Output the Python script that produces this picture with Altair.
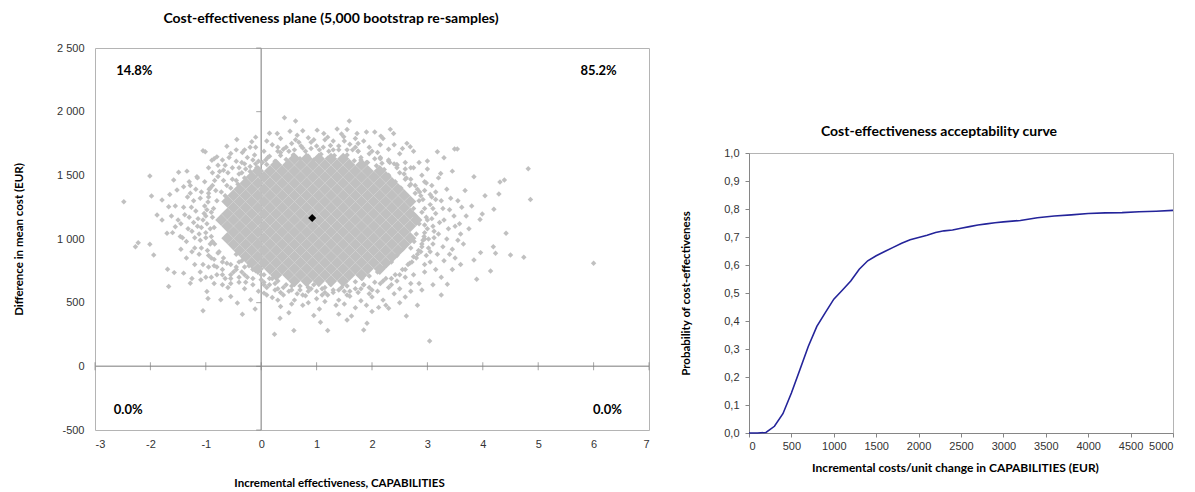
import altair as alt
import pandas as pd

# ---------------- Cost-effectiveness plane ----------------
plane_title = "Cost-effectiveness plane (5,000 bootstrap re-samples)"
plane_x_ticks = [-3, -2, -1, 0, 1, 2, 3, 4, 5, 6, 7]
plane_y_ticks = [-500, 0, 500, 1000, 1500, 2000, 2500]

# dense core of the bootstrap cloud (rows of re-samples)
E17 = [-0.72, -0.50, -0.28, -0.06, 0.16, 0.38, 0.60, 0.82, 1.04, 1.26, 1.48, 1.70, 1.92, 2.14, 2.36, 2.58, 2.80]
O16 = [-0.61, -0.39, -0.17, 0.05, 0.27, 0.49, 0.71, 0.93, 1.15, 1.37, 1.59, 1.81, 2.03, 2.25, 2.47, 2.69]
E15 = [-0.50, -0.28, -0.06, 0.16, 0.38, 0.60, 0.82, 1.04, 1.26, 1.48, 1.70, 1.92, 2.14, 2.36, 2.58]
O14 = [-0.39, -0.17, 0.05, 0.27, 0.49, 0.71, 0.93, 1.15, 1.37, 1.59, 1.81, 2.03, 2.25, 2.47]
E13 = [-0.28, -0.06, 0.16, 0.38, 0.60, 0.82, 1.04, 1.26, 1.48, 1.70, 1.92, 2.14, 2.36]
O12 = [-0.17, 0.05, 0.27, 0.49, 0.71, 0.93, 1.15, 1.37, 1.59, 1.81, 2.03, 2.25]
E11 = [-0.06, 0.16, 0.38, 0.60, 0.82, 1.04, 1.26, 1.48, 1.70, 1.92, 2.14]
O8 = [0.27, 0.49, 0.71, 0.93, 1.15, 1.37, 1.59, 1.81]
E5 = [0.60, 0.82, 1.04, 1.26, 1.48]
core_y = [1630, 1582, 1534, 1486, 1438, 1390, 1342, 1294, 1246, 1198, 1150,
          1102, 1054, 1006, 958, 910, 862, 814, 766, 718, 670]
core_x = [E5, O8, E11, O12, E13, O14, E15, O16, E15, O16, E17,
          O16, E15, O16, E15, O14, E13, O12, E11, O8, E5]

# scattered re-samples around the core
halo_points = [
    (-2.48, 1292), (-2.01, 1494), (-1.98, 1337), (-2.27, 940), (-2.22, 971), (-2.01, 958),
    (-1.94, 875), (-1.69, 762), (-1.57, 736), (-1.79, 1306), (-1.67, 1254), (-1.88, 1189),
    (-1.79, 1150), (-1.70, 1045), (-1.46, 1019), (-1.55, 1097), (-1.52, 1385), (-1.40, 1411),
    (-1.28, 1359), (-1.58, 1463), (-1.16, 1489), (-1.49, 1525), (-1.34, 1533),
    (-1.05, 437), (-0.96, 532), (-0.34, 409), (-0.11, 451), (0.24, 252), (0.59, 281),
    (1.20, 281), (0.34, 377), (-1.67, 627), (-1.40, 732), (-1.28, 653), (-1.09, 679),
    (-0.98, 588), (-0.73, 523), (-0.55, 549), (-0.43, 497), (-0.19, 523), (0.05, 575),
    (0.42, 1952), (0.62, 1926), (1.59, 1926), (-1.05, 1693), (-1.01, 1685), (-0.62, 1729),
    (-0.44, 1781), (-0.17, 1763), (-0.89, 1619), (-0.80, 1645), (-0.55, 1672), (-0.34, 1680),
    (0.29, 1829), (0.52, 1847), (1.01, 1855), (1.37, 1863), (1.13, 1829), (1.73, 1829),
    (1.49, 1803), (2.33, 1861), (2.39, 1829), (2.16, 1808), (2.63, 1751), (2.69, 1725),
    (3.49, 1707), (3.54, 1707), (3.18, 1685), (3.00, 1612), (3.30, 1638), (3.45, 1533),
    (3.24, 1515), (6.00, 809), (4.82, 1552), (4.86, 1311), (4.74, 856), (4.50, 874),
    (4.42, 1045), (4.31, 1447), (4.39, 1463), (4.29, 1353), (4.20, 1233), (4.04, 1340),
    (3.99, 1196), (3.84, 1489), (3.95, 1154), (4.19, 940), (4.23, 888), (3.96, 893),
    (3.84, 835), (4.14, 749), (3.89, 684), (3.36, 644), (3.04, 199), (2.82, 479),
    (2.62, 395), (2.30, 456), (2.12, 463), (1.91, 338), (1.85, 286), (1.63, 395),
    (1.55, 364), (1.07, 346),
    (-0.30, 1590), (-0.15, 1620), (0.02, 1600), (0.12, 1640), (0.25, 1610), (0.35, 1655),
    (0.45, 1625), (0.58, 1660), (0.70, 1630), (0.85, 1650), (0.95, 1620), (1.08, 1665),
    (1.20, 1635), (1.32, 1655), (1.45, 1620), (1.55, 1660), (1.68, 1615), (1.80, 1640),
    (1.92, 1600), (2.05, 1630), (2.18, 1595), (2.30, 1620), (2.45, 1585), (2.60, 1600),
    (-0.45, 1700), (-0.20, 1720), (0.05, 1690), (0.20, 1740), (0.40, 1705), (0.55, 1750),
    (0.75, 1715), (0.90, 1760), (1.05, 1700), (1.25, 1735), (1.40, 1700), (1.60, 1745),
    (1.75, 1690), (1.95, 1720), (2.10, 1680), (2.30, 1705), (2.50, 1670), (2.75, 1690),
    (-0.10, 1800), (0.15, 1830), (0.35, 1790), (0.65, 1815), (0.85, 1795), (1.20, 1800),
    (1.45, 1825), (1.70, 1790), (1.90, 1840), (2.20, 1790),
    (-0.42, 1430), (-0.30, 1480), (-0.20, 1530), (-0.08, 1560), (0.10, 1585), (0.28, 1598),
    (-0.45, 880), (-0.35, 830), (-0.22, 790), (-0.10, 750), (0.05, 720), (0.20, 690),
    (0.30, 670), (2.30, 1500), (2.42, 1450), (2.52, 1400), (2.62, 1340), (2.70, 1290),
    (2.22, 1545), (2.08, 1575), (1.90, 1600), (1.80, 1620), (2.55, 920), (2.45, 870),
    (2.35, 820), (2.22, 780), (2.10, 740), (1.95, 710), (1.82, 690), (1.70, 665),
    (-0.85, 1090), (-0.90, 1210), (-0.88, 980), (-0.95, 1330), (-0.92, 1400), (-0.84, 1460),
    (-0.97, 910), (-0.90, 850), (-1.00, 1050), (-1.05, 1150), (-1.02, 1260), (-1.10, 990),
    (-1.08, 1370), (-1.15, 1100), (-1.18, 1220), (-1.25, 1060), (-1.22, 1300), (-1.30, 1170),
    (-1.35, 980), (-1.40, 1250), (-1.45, 1120), (-1.12, 880), (-1.20, 930), (-1.05, 800),
    (-0.80, 780), (-0.70, 820), (-0.75, 1530), (-0.95, 1560), (-1.15, 1480), (-1.28, 1420),
    (-0.85, 1630), (-0.65, 1580), (-0.40, 1560),
    (-0.80, 720), (-0.65, 690), (-0.50, 740), (-0.40, 660), (-0.25, 700), (-0.30, 610),
    (-0.15, 640), (-0.05, 590), (0.10, 620), (0.00, 680), (-0.60, 620), (-0.85, 650),
    (-1.00, 700), (-1.20, 800), (-1.35, 850),
    (0.15, 640), (0.30, 610), (0.45, 640), (0.55, 600), (0.70, 630), (0.85, 590),
    (0.95, 640), (1.10, 610), (1.25, 645), (1.40, 600), (1.55, 630), (1.70, 610),
    (1.85, 640), (2.00, 600), (2.15, 650), (2.30, 620), (2.45, 670), (2.60, 700),
    (2.70, 650), (0.20, 540), (0.40, 560), (0.60, 520), (0.80, 555), (1.00, 530),
    (1.20, 560), (1.40, 520), (1.60, 550), (1.80, 515), (2.00, 545), (2.20, 520),
    (2.40, 570), (2.60, 545), (0.35, 470), (0.75, 480), (1.05, 450), (1.35, 480),
    (1.70, 460), (2.00, 430), (0.95, 400), (1.40, 410), (0.50, 420),
    (2.75, 1240), (2.78, 1180), (2.72, 1100), (2.80, 1040), (2.76, 980), (2.70, 930),
    (2.85, 1300), (2.78, 1360), (2.68, 1420), (2.60, 1470), (2.85, 1120), (2.90, 1210),
    (2.95, 1050), (2.92, 990), (3.00, 1150), (3.05, 1270), (2.95, 1380), (2.88, 900),
    (2.80, 850), (2.65, 800), (3.10, 1100), (3.15, 1200), (3.10, 960), (3.20, 1040),
    (3.25, 1300), (3.30, 1150), (3.18, 880), (3.05, 820), (3.35, 1000), (3.40, 1230),
    (3.50, 1100), (3.45, 920), (3.55, 1300), (3.60, 1040), (3.70, 1180), (3.65, 960),
    (3.08, 1420), (3.20, 1480), (3.35, 1390), (2.90, 1500), (2.75, 1560), (3.00, 1550),
    (2.60, 1550), (2.40, 1590), (3.15, 760), (2.95, 740), (2.75, 720), (3.30, 830),
    (3.50, 850), (3.10, 640), (2.90, 600), (3.25, 560), (3.45, 760),
    (-0.98, 1120), (-1.03, 1200), (-0.96, 1290), (-1.00, 1010), (-0.94, 1390), (-1.12, 1040),
    (-1.14, 1160), (-1.10, 1320), (-1.22, 1130), (-1.26, 1250), (-1.20, 1010), (-1.32, 1080),
    (-1.38, 1190), (-1.33, 1330), (-1.42, 1010), (-1.50, 1150), (-1.55, 1260), (-1.60, 1050),
    (-1.25, 900), (-1.08, 930), (-0.92, 960), (-1.30, 1450), (-1.18, 1390), (-1.02, 1450),
    (-0.88, 1520), (-0.78, 1580), (-0.70, 1620), (-1.45, 920), (-1.62, 1180), (-1.65, 1350),
    (-0.95, 780), (-0.85, 840), (-0.78, 890), (-0.70, 760), (-0.62, 810), (-0.55, 720),
    (-0.45, 780), (-0.35, 740), (-0.28, 660), (-0.55, 650), (-0.70, 640), (-0.90, 700),
    (-1.10, 740), (-1.25, 690),
    (-0.68, 1460), (-0.60, 1520), (-0.52, 1560), (-0.45, 1610), (-0.35, 1600), (-0.25, 1640),
    (-0.12, 1660), (-0.58, 1640), (-0.30, 1700), (-0.10, 1720),
    (0.10, 1770), (0.30, 1720), (0.50, 1690), (0.68, 1760), (0.80, 1690), (1.00, 1730),
    (1.15, 1780), (1.30, 1700), (1.50, 1770), (1.65, 1700), (1.85, 1770), (2.00, 1690),
    (2.15, 1740), (2.40, 1740), (2.55, 1710), (2.05, 1840), (1.55, 1860), (0.75, 1850),
    (2.50, 1520), (2.62, 1480), (2.70, 1430), (2.82, 1390), (2.88, 1340), (2.95, 1450),
    (2.45, 1580), (2.30, 1610), (2.15, 1630), (2.70, 1560), (2.85, 1600),
    (-0.45, 1460), (-0.35, 1520), (-0.20, 1570), (-0.05, 1610), (0.15, 1650), (0.35, 1680),
    (-0.55, 1400), (-0.65, 1340),
    (0.25, 600), (0.50, 590), (0.65, 570), (0.90, 610), (1.15, 580), (1.30, 600),
    (1.50, 590), (1.75, 580), (1.95, 620), (2.10, 590), (2.35, 640), (2.50, 610),
    (0.05, 640), (0.10, 560), (0.30, 520), (0.55, 490), (0.85, 500), (1.15, 510),
    (1.50, 490), (1.90, 480), (2.25, 480), (2.50, 500), (2.70, 590), (2.85, 650),
    (2.60, 760), (2.72, 820), (2.82, 880), (2.90, 940), (2.50, 720), (2.35, 690),
    (2.20, 670), (2.95, 800), (-0.40, 820), (-0.30, 780), (-0.15, 760), (0.00, 720),
    (0.15, 690),
    (2.95, 1110), (3.02, 1000), (3.08, 1330), (3.12, 1060), (3.22, 1130), (3.28, 1240),
    (3.38, 1080), (3.42, 1320), (3.48, 1180), (3.58, 1120), (3.62, 1250), (3.28, 940),
    (3.40, 880), (3.55, 990), (3.75, 1080), (3.80, 1260), (3.15, 1370), (3.05, 900),
    (2.98, 870), (3.68, 1380), (3.25, 700), (3.60, 800),
    (-0.88, 1170), (-0.92, 1080), (-0.86, 1240), (-0.90, 1020), (-0.84, 960), (-0.80, 1300),
    (-0.76, 900), (-0.72, 1370), (-0.68, 850), (-0.62, 1420), (-0.55, 800), (-0.52, 1470),
    (-0.45, 760), (-0.40, 1510), (-0.30, 720), (-0.28, 1550), (-0.15, 690), (-0.10, 1590),
    (0.05, 660), (0.08, 1620), (-1.00, 1180), (-0.98, 1230), (-1.08, 1090), (-0.95, 1360),
    (-0.88, 1420), (-0.82, 1380), (-0.78, 1490), (-0.68, 1540), (-0.95, 870), (-0.85, 790),
    (-0.70, 720), (-0.55, 690), (-0.40, 700),
    (2.98, 1170), (2.95, 1240), (3.00, 1080), (2.92, 1310), (2.94, 1020), (2.86, 1370),
    (2.90, 960), (2.78, 1420), (2.84, 910), (2.70, 1470), (2.75, 860), (2.58, 1510),
    (2.68, 810), (2.45, 1560), (2.55, 760), (2.32, 1600), (2.42, 720), (2.15, 1640),
    (2.25, 690), (1.95, 1670), (2.05, 660), (1.75, 1690), (1.85, 640), (3.08, 1160),
    (3.10, 1240), (3.12, 1010), (3.05, 1350), (3.15, 1310), (2.98, 1440), (3.02, 930),
    (2.95, 1000),
    (0.30, 1690), (0.45, 1720), (0.60, 1700), (0.72, 1730), (0.90, 1710), (1.12, 1720),
    (1.22, 1690), (1.40, 1730), (1.55, 1700), (1.70, 1720), (0.62, 1780), (0.95, 1780),
    (1.30, 1770), (1.75, 1750),
    (0.25, 650), (0.40, 620), (0.55, 630), (0.70, 600), (0.85, 620), (1.00, 590),
    (1.15, 620), (1.30, 580), (1.45, 620), (1.60, 590), (1.80, 610), (0.35, 580),
    (0.75, 560), (1.10, 560), (1.55, 560), (1.95, 570),
]

mean_x = [0.92]
mean_y = [1165]

quad_text = ["14.8%", "85.2%", "0.0%", "0.0%"]
quad_x = [-2.29, 6.09, -2.40, 6.25]
quad_y = [2320, 2320, -340, -340]

# ---------------- Acceptability curve ----------------
ceac_title = "Cost-effectiveness acceptability curve"
ceac_wtp = [0, 100, 200, 300, 400, 500, 600, 700, 800, 900, 1000, 1100, 1200, 1300, 1400,
            1500, 1600, 1700, 1800, 1900, 2000, 2100, 2200, 2300, 2400, 2500, 2600, 2700,
            2800, 2900, 3000, 3200, 3400, 3600, 3800, 4000, 4200, 4400, 4600, 4800, 5000]
ceac_prob = [0.0, 0.0, 0.002, 0.024, 0.069, 0.143, 0.226, 0.31, 0.381, 0.43, 0.478, 0.51,
             0.543, 0.585, 0.615, 0.633, 0.648, 0.663, 0.678, 0.69, 0.698, 0.706, 0.716,
             0.722, 0.725, 0.731, 0.737, 0.743, 0.747, 0.751, 0.754, 0.759, 0.769, 0.775,
             0.779, 0.784, 0.786, 0.787, 0.79, 0.792, 0.795]
ceac_x_ticks = [0, 500, 1000, 1500, 2000, 2500, 3000, 3500, 4000, 4500, 5000]
ceac_y_ticks = [0.0, 0.1, 0.2, 0.3, 0.4, 0.5, 0.6, 0.7, 0.8, 0.9, 1.0]

# ---------------- build frames ----------------
core_df = pd.DataFrame([(x, y) for y, xs in zip(core_y, core_x) for x in xs], columns=["x", "y"])
halo_df = pd.DataFrame(halo_points, columns=["x", "y"])
mean_df = pd.DataFrame({"x": mean_x, "y": mean_y})
quad_df = pd.DataFrame({"x": quad_x, "y": quad_y, "t": quad_text})
xtick_df = pd.DataFrame({"x": plane_x_ticks, "y": [0] * len(plane_x_ticks)})
ytick_df = pd.DataFrame({"x": [0] * len(plane_y_ticks), "y": plane_y_ticks})
ceac_df = pd.DataFrame({"wtp": ceac_wtp, "p": ceac_prob})

LABEL_FONT = "Liberation Sans"
TITLE_FONT = "Lato"
GRAY = "#C0C0C0"

x_enc = alt.X(
    "x:Q",
    scale=alt.Scale(domain=[-3, 7], nice=False, zero=False),
    axis=alt.Axis(
        values=plane_x_ticks, labelExpr="toString(datum.value)", grid=False,
        domain=False, ticks=False, tickSize=0, labelPadding=8,
        labelFont=LABEL_FONT, labelFontSize=11, labelColor="#333333",
        title="Incremental effectiveness, CAPABILITIES",
        titleFont=TITLE_FONT, titleFontWeight="bold", titleFontSize=11.5, titleColor="black",
        titleX=244, titleY=53, titleBaseline="middle", titleAlign="center",
    ),
)
y_enc = alt.Y(
    "y:Q",
    scale=alt.Scale(domain=[-500, 2500], nice=False, zero=False),
    axis=alt.Axis(
        values=plane_y_ticks,
        labelExpr="abs(datum.value) >= 1000 ? replace(format(datum.value, ','), ',', ' ') : toString(datum.value)",
        grid=False, domain=False, ticks=False, tickSize=0, labelPadding=11,
        labelFont=LABEL_FONT, labelFontSize=11, labelColor="#333333",
        title="Difference in mean cost (EUR)",
        titleFont=TITLE_FONT, titleFontWeight="bold", titleFontSize=11.5, titleColor="black",
        titleX=-76, titleY=191, titleAngle=270, titleBaseline="middle", titleAlign="center",
    ),
)

vrule = alt.Chart(pd.DataFrame({"x": [0]})).mark_rule(color="#A6A6A6", strokeWidth=1.5).encode(x=x_enc)
hrule = alt.Chart(pd.DataFrame({"y": [0]})).mark_rule(color="#A6A6A6", strokeWidth=1.5).encode(y=y_enc)
xticks = alt.Chart(xtick_df).mark_tick(orient="vertical", size=8, thickness=1, color="#808080").encode(x=x_enc, y=y_enc)
yticks = alt.Chart(ytick_df).mark_tick(orient="horizontal", size=5, thickness=1, xOffset=-2.5, color="#808080").encode(x=x_enc, y=y_enc)
halo = alt.Chart(halo_df).mark_point(shape="diamond", filled=True, size=30, color=GRAY, opacity=1).encode(x=x_enc, y=y_enc)
core = alt.Chart(core_df).mark_point(shape="diamond", filled=True, size=150, color=GRAY, opacity=1).encode(x=x_enc, y=y_enc)
mean_pt = alt.Chart(mean_df).mark_point(shape="diamond", filled=True, size=64, color="black", opacity=1).encode(x=x_enc, y=y_enc)
quad = alt.Chart(quad_df).mark_text(font=TITLE_FONT, fontWeight="bold", fontSize=13, color="black",
                                    align="center", baseline="middle").encode(x=x_enc, y=y_enc, text="t:N")

plane = alt.layer(vrule, hrule, xticks, yticks, halo, core, mean_pt, quad).properties(
    width=554, height=382,
    title=alt.TitleParams(text=plane_title, font=TITLE_FONT, fontWeight="bold", fontSize=14,
                          color="black", anchor="middle", dx=-41, offset=16),
)

ceac = alt.Chart(ceac_df).mark_line(color="#24249A", strokeWidth=1.6).encode(
    x=alt.X("wtp:Q", scale=alt.Scale(domain=[0, 5000], nice=False, zero=False),
            axis=alt.Axis(values=ceac_x_ticks, labelExpr="toString(datum.value)", grid=False,
                          domainColor="#868686", tickColor="#868686", tickSize=4, labelPadding=3,
                          labelFont=LABEL_FONT, labelFontSize=11, labelColor="#333333",
                          title="Incremental costs/unit change in CAPABILITIES (EUR)",
                          titleFont=TITLE_FONT, titleFontWeight="bold", titleFontSize=12, titleColor="black",
                          titleX=206, titleY=34, titleBaseline="middle", titleAlign="center")),
    y=alt.Y("p:Q", scale=alt.Scale(domain=[0, 1], nice=False, zero=False),
            axis=alt.Axis(values=ceac_y_ticks, labelExpr="replace(format(datum.value, '.1f'), '.', ',')",
                          grid=False, domainColor="#868686", tickColor="#868686", tickSize=4, labelPadding=6,
                          labelFont=LABEL_FONT, labelFontSize=11, labelColor="#333333",
                          title="Probability of cost-effectiveness",
                          titleFont=TITLE_FONT, titleFontWeight="bold", titleFontSize=11.5, titleColor="black",
                          titleX=-63, titleY=140, titleAngle=270, titleBaseline="middle", titleAlign="center")),
).properties(
    width=424, height=280,
    title=alt.TitleParams(text=ceac_title, font=TITLE_FONT, fontWeight="bold", fontSize=14,
                          color="black", anchor="middle", dx=-22, offset=8),
)

spacer = alt.Chart(pd.DataFrame({"v": [0]})).mark_point(opacity=0).encode(
    x=alt.value(0), y=alt.value(0)
).properties(width=10, height=75, view=alt.ViewBackground(stroke="transparent"))

right_col = alt.vconcat(spacer, ceac, spacing=0)

chart = alt.hconcat(plane, right_col, spacing=28).properties(
    padding={"left": 4, "top": 3, "right": 0, "bottom": 0}
).configure_view(stroke="#B4B4B4", strokeWidth=1)

chart.save("out.html", embed_options={"renderer": "svg", "actions": False})
